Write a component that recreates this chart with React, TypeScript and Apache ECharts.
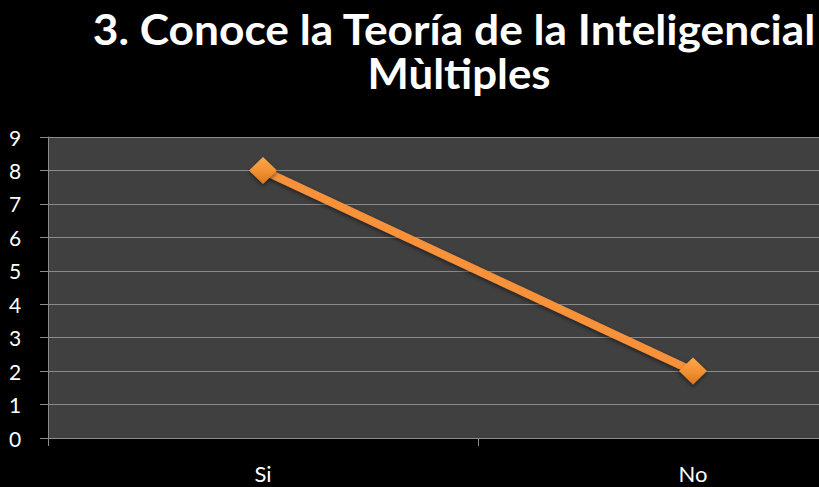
import React, { useEffect, useRef } from "react";
import * as echarts from "echarts";

const titleLines = ["3. Conoce la Teoría de la Inteligencial", "Mùltiples"];
const categories = ["Si", "No"];
const values = [8, 2];
const yMin = 0;
const yMax = 9;
const yInterval = 1;

const TITLE_FONT = "Lato";
const TITLE_SIZE = 42;

function measure(text: string, font: string): number {
  const c = document.createElement("canvas");
  const ctx = c.getContext("2d");
  if (!ctx) return 0;
  ctx.font = font;
  return ctx.measureText(text).width;
}

export default function App() {
  const ref = useRef<HTMLDivElement>(null);
  useEffect(() => {
    if (!ref.current) return;
    const chart = echarts.init(ref.current, null, { renderer: "svg" });
    const font = `bold ${TITLE_SIZE}px ${TITLE_FONT}`;
    const w1 = measure(titleLines[0], font) || 724;
    const w2 = measure(titleLines[1], font) || 183;
    const s1 = 724 / w1;
    const s2 = 183 / w2;
    chart.setOption({
      animation: false,
      backgroundColor: "#000000",
      grid: {
        left: 48,
        top: 137,
        height: 301,
        width: 860,
        outerBoundsMode: "none",
        containLabel: false,
        show: true,
        backgroundColor: "#404040",
        borderWidth: 0,
      },
      graphic: [
        {
          type: "text",
          x: 454,
          y: 28,
          scaleX: s1,
          style: {
            text: titleLines[0],
            fill: "#ffffff",
            font,
            align: "center",
            verticalAlign: "middle",
          },
        },
        {
          type: "text",
          x: 459,
          y: 73,
          scaleX: s2,
          style: {
            text: titleLines[1],
            fill: "#ffffff",
            font,
            align: "center",
            verticalAlign: "middle",
          },
        },
      ],
      xAxis: {
        type: "category",
        data: categories,
        boundaryGap: true,
        axisLine: { show: true, lineStyle: { color: "#8c8c8c", width: 1 } },
        axisTick: { show: true, length: 8, lineStyle: { color: "#8c8c8c" } },
        axisLabel: {
          color: "#ffffff",
          fontFamily: "Lato",
          fontSize: 22,
          margin: 24,
        },
        splitLine: { show: false },
      },
      yAxis: {
        type: "value",
        min: yMin,
        max: yMax,
        interval: yInterval,
        axisLine: { show: true, lineStyle: { color: "#8c8c8c", width: 1 } },
        axisTick: { show: true, length: 8, lineStyle: { color: "#8c8c8c" } },
        axisLabel: {
          color: "#ffffff",
          fontFamily: "Lato",
          fontSize: 21,
          align: "left",
          margin: 39,
        },
        splitLine: { show: true, lineStyle: { color: "#8a8a8a", width: 1 } },
      },
      series: [
        {
          type: "line",
          data: values,
          symbol: "diamond",
          symbolSize: [28, 27],
          lineStyle: {
            color: "#F7923A",
            width: 8,
            shadowColor: "rgba(0,0,0,0.5)",
            shadowBlur: 4,
            shadowOffsetY: 2,
          },
          itemStyle: {
            color: new echarts.graphic.LinearGradient(0, 0, 0, 1, [
              { offset: 0, color: "#FBA84C" },
              { offset: 0.5, color: "#F39233" },
              { offset: 1, color: "#D9771C" },
            ]),
            borderWidth: 0,
            shadowColor: "rgba(0,0,0,0.5)",
            shadowBlur: 4,
            shadowOffsetY: 2,
          },
          z: 3,
        },
      ],
    });
    return () => chart.dispose();
  }, []);
  return (
    <div
      ref={ref}
      style={{ position: "fixed", left: 0, top: 0, width: 819, height: 487 }}
    />
  );
}
